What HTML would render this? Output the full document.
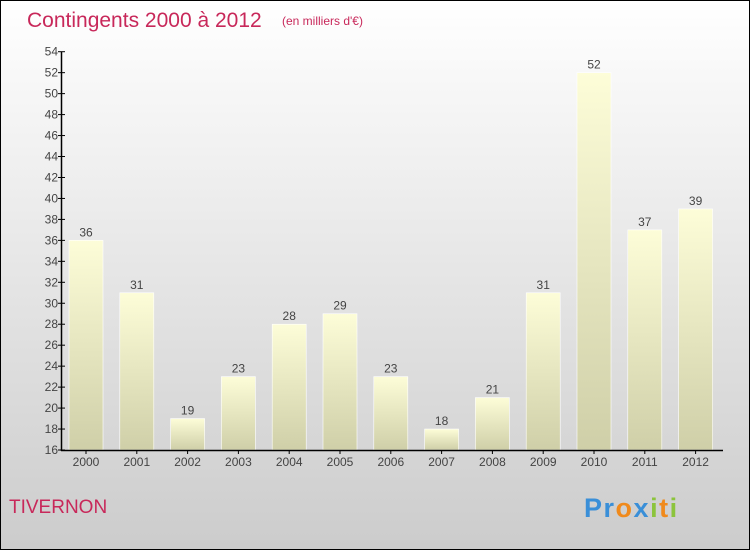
<!DOCTYPE html>
<html><head><meta charset="utf-8"><style>
body{margin:0;}
#c{position:relative;width:748px;height:548px;border:1px solid #000;background:linear-gradient(#fff,#ccc);font-family:"Liberation Sans",sans-serif;overflow:hidden;}
</style></head><body>
<div id="c">
<svg width="748" height="548" id="svg" font-family="Liberation Sans, sans-serif">
<defs><linearGradient id="bg" x1="0" y1="0" x2="0" y2="1"><stop offset="0" stop-color="#fdfdd8"/><stop offset="1" stop-color="#cfcfa8"/></linearGradient></defs>
<text x="26" y="26" font-size="21" fill="#c8285a">Contingents 2000 à 2012</text>
<text x="281" y="24" font-size="12" fill="#c8285a">(en milliers d'€)</text>
<text x="8" y="512" font-size="19" fill="#c8285a">TIVERNON</text>
<text x="583" y="516" font-size="27" font-weight="bold" letter-spacing="1.5"><tspan fill="#3a8fd8">Pr</tspan><tspan fill="#f08a1c">o</tspan><tspan fill="#3a8fd8">x</tspan><tspan fill="#8cc43c">i</tspan><tspan fill="#f08a1c">t</tspan><tspan fill="#8cc43c">i</tspan></text>
<g id="g"></g>
</svg>
</div>
<script>
const years=["2000","2001","2002","2003","2004","2005","2006","2007","2008","2009","2010","2011","2012"];
const values=[36,31,19,23,28,29,23,18,21,31,52,37,39];
const yTicks=[16,18,20,22,24,26,28,30,32,34,36,38,40,42,44,46,48,50,52,54];
const g=document.getElementById('g');const NS="http://www.w3.org/2000/svg";
const y0=449,yMin=16,yMax=54,yTop=50.7;
function y(v){return y0-(v-yMin)*(y0-yTop)/(yMax-yMin);}
function x(i){return 85+i*50.8;}
function mk(t,a){const e=document.createElementNS(NS,t);for(const k in a)e.setAttribute(k,a[k]);g.appendChild(e);return e;}
values.forEach((v,i)=>{
 const r=mk('rect',{x:x(i)-17,y:y(v),width:34,height:y0-y(v),fill:'url(#bg)',stroke:'#fff','stroke-width':0.6});
 
 
 const t=mk('text',{x:x(i),y:y(v)-4,'text-anchor':'middle','font-size':12,fill:'#444'});t.textContent=v;
 
 
 const l=mk('text',{x:x(i),y:y0+16,'text-anchor':'middle','font-size':12,fill:'#444'});l.textContent=years[i];
 
 
 mk('line',{x1:x(i),x2:x(i),y1:y0,y2:y0+4,stroke:'#000'});
});
yTicks.forEach(v=>{
 mk('line',{x1:57,x2:64,y1:y(v),y2:y(v),stroke:'#000'});
 const t=mk('text',{x:57,y:y(v)+4,'text-anchor':'end','font-size':12,fill:'#444'});t.textContent=v;
 
 
});
const ya=mk('line',{x1:60.5,x2:60.5,y1:yTop,y2:y0+1,stroke:'#000','stroke-width':1.5});


const xa=mk('line',{x1:60,x2:722,y1:y0+0.5,y2:y0+0.5,stroke:'#000','stroke-width':1.5});


</script>
</body></html>
